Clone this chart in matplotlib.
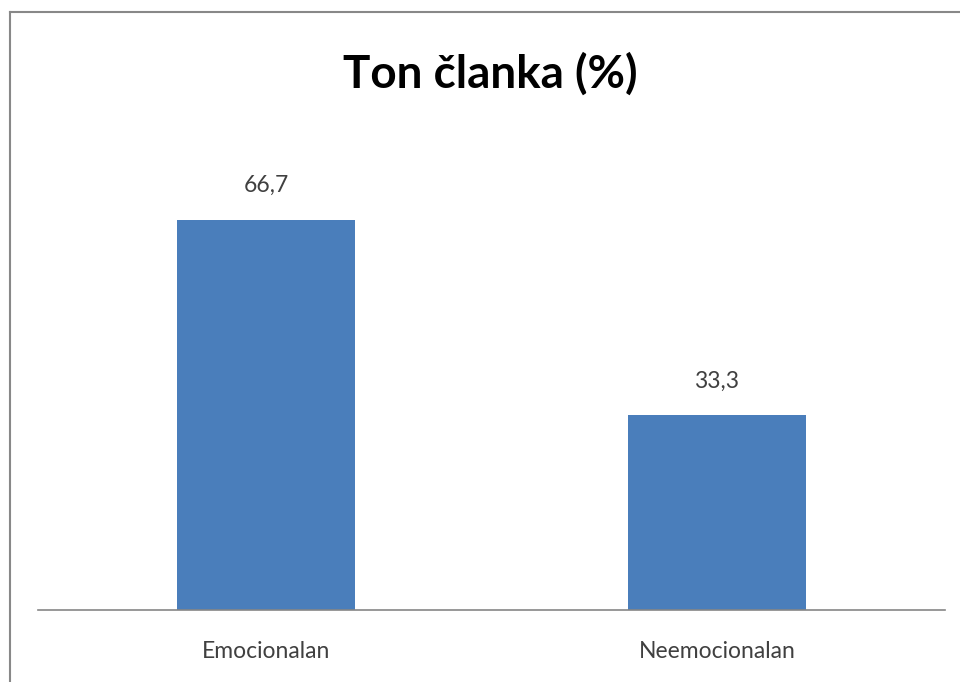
import matplotlib.pyplot as plt
from matplotlib.lines import Line2D

categories = ["Emocionalan", "Neemocionalan"]
values = [66.7, 33.3]
value_labels = ["66,7", "33,3"]

plt.rcParams['font.family'] = ['Lato', 'DejaVu Sans']

W, H = 960, 682
fig = plt.figure(figsize=(W/100, H/100), dpi=100)
ax = fig.add_axes([38/W, 72/H, (945-38)/W, (610-142)/H])

x = range(len(categories))
bars = ax.bar(x, values, width=0.395, color="#4a7ebb")
ax.set_xlim(-0.506, 1.506)
ax.set_ylim(0, 80)

for b, lab in zip(bars, value_labels):
    ax.annotate(lab, (b.get_x() + b.get_width()/2, b.get_height()),
                xytext=(0, 17), textcoords="offset points",
                ha="center", va="bottom", fontsize=16.5, color="#404040")

ax.set_xticks(list(x))
ax.set_xticklabels(categories, fontsize=16.5, color="#404040")
ax.tick_params(axis="x", length=0, pad=22)
ax.set_yticks([])
for s in ["top", "right", "left"]:
    ax.spines[s].set_visible(False)
ax.spines["bottom"].set_color("#868686")
ax.spines["bottom"].set_linewidth(1.2)

fig.text(490/W, 1 - 74/H, "Ton članka (%)", ha="center", va="center",
         fontsize=33, fontweight="bold", color="black")

# outer frame (left and top edges visible)
fig.add_artist(Line2D([10/W, 10/W], [0, 1 - 12/H], color="#888888", lw=1.5))
fig.add_artist(Line2D([10/W, 1], [1 - 12/H, 1 - 12/H], color="#888888", lw=1.5))

fig.savefig("out.png", dpi=100)
